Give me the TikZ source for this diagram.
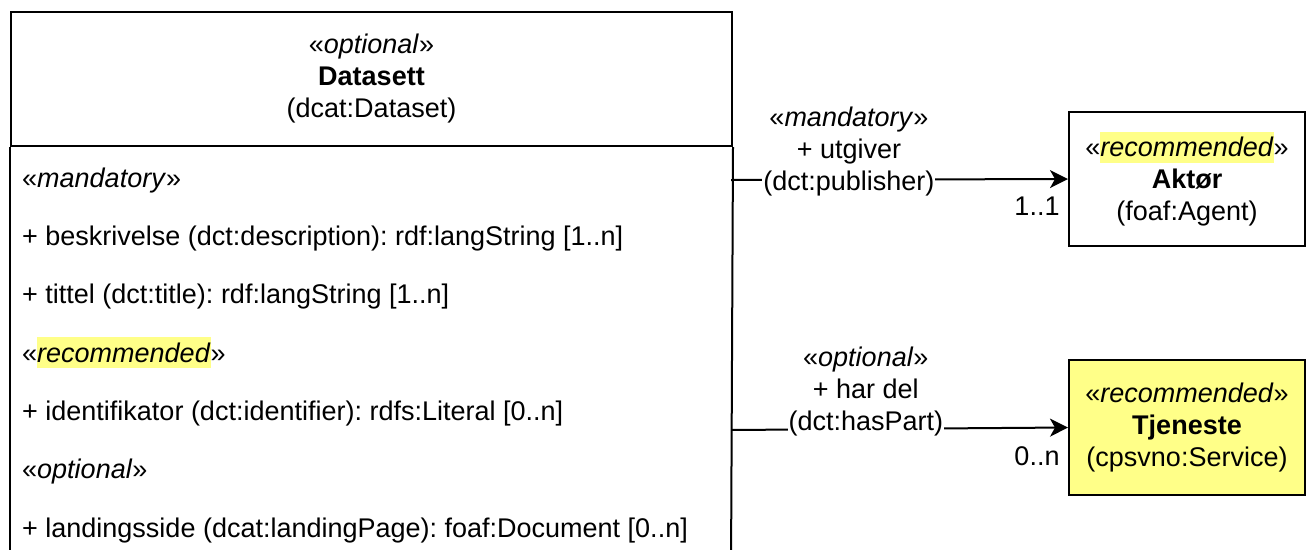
\documentclass[tikz,border=0pt]{standalone}
\usepackage{fontspec}
\setmainfont{Liberation Sans}
\usetikzlibrary{arrows.meta}
\definecolor{hlc}{HTML}{FFFF88}
\definecolor{svcfill}{HTML}{FFFF88}
\newcommand{\hlt}[1]{{\setlength{\fboxsep}{0pt}\colorbox{hlc}{\rule[-6pt]{0pt}{31pt}#1}}}
\newcommand{\stereo}[1]{«\textit{#1}»}
\frenchspacing
\begin{document}
\begin{tikzpicture}[x=1pt,y=-1pt,
  every node/.style={inner sep=0pt, font=\fontsize{27}{32}\selectfont},
  box/.style={draw=black, line width=2pt},
  lbl/.style={align=center},
  attr/.style={anchor=base west},
  conn/.style={line width=2pt, -{Stealth[length=18pt,width=18pt,inset=5pt]}},
]
\useasboundingbox (0,0) rectangle (1306,549);
\clip (0,0) rectangle (1306,549);
% Datasett class
\node[box, minimum width=721pt, minimum height=134pt, anchor=north west, align=center] (ds) at (10,11)
  {\stereo{optional}\\ \textbf{Datasett}\\ (dcat:Dataset)};
\draw[box] (ds.south west) -- (10,570);
\draw[box] (ds.south east) -- (731,570);
\coordinate (dsR1) at (731,180);
\coordinate (dsR2) at (731,430);
% attributes
\node[attr] (a1) at (22,187.5) {\stereo{mandatory}};
\node[attr] (a2) at (22,245.5) {+ beskrivelse (dct:description): rdf:langString [1..n]};
\node[attr] (a3) at (22,303.5) {+ tittel (dct:title): rdf:langString [1..n]};
\node[attr] (a4) at (22,362) {«\hlt{\textit{recommended}}»};
\node[attr] (a5) at (22,420.5) {+ identifikator (dct:identifier): rdfs:Literal [0..n]};
\node[attr] (a6) at (22,478.5) {\stereo{optional}};
\node[attr] (a7) at (22,537.5) {+ landingsside (dcat:landingPage): foaf:Document [0..n]};
% Aktor
\node[box, minimum width=236pt, minimum height=134pt, align=center] (agent) at (1187,179)
  {«\hlt{\textit{recommended}}»\\ \textbf{Aktør}\\ (foaf:Agent)};
% Tjeneste
\node[box, fill=svcfill, minimum width=236pt, minimum height=135pt, align=center] (service) at (1187,427.5)
  {\stereo{recommended}\\ \textbf{Tjeneste}\\ (cpsvno:Service)};
% connectors
\draw[conn] (dsR1) -- node[pos=0.35, lbl, fill=white, inner sep=1pt, yshift=28pt] (l1) {\stereo{mandatory}\\ + utgiver\\ (dct:publisher)}
  node[pos=1, xshift=-31pt, yshift=-27pt] (m1) {1..1} (agent.west);
\draw[conn] (dsR2) -- node[pos=0.40, lbl, fill=white, inner sep=1pt, yshift=37pt] (l2) {\stereo{optional}\\ + har del\\ (dct:hasPart)}
  node[pos=1, xshift=-31pt, yshift=-29pt] (m2) {0..n} (service.west);
\end{tikzpicture}
\end{document}
